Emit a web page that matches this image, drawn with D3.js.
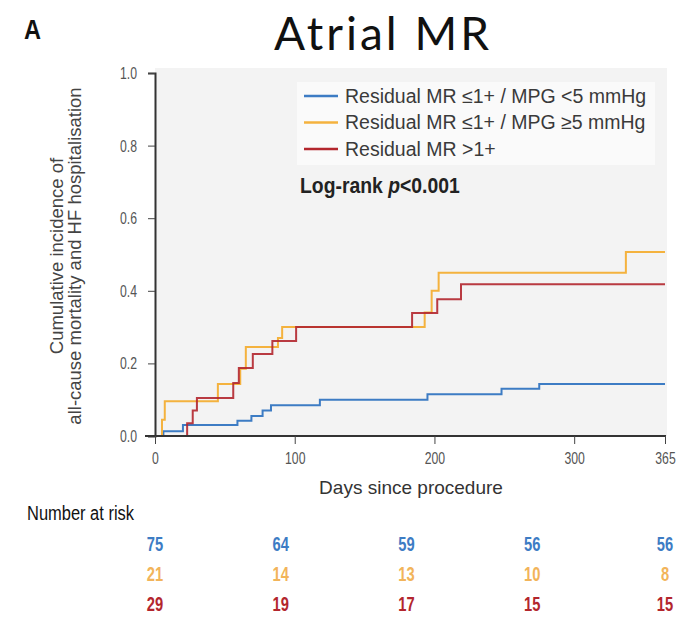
<!DOCTYPE html>
<html>
<head>
<meta charset="utf-8">
<script src="https://cdn.jsdelivr.net/npm/d3@7"></script>
<style>
    body { margin: 0; background: #fff; }
    .narrow { font-family: "Liberation Sans", Arial, sans-serif; }
    .tick text { font-family: "Liberation Sans", Arial, sans-serif; font-size: 17px; fill: #555; }
</style>
</head>
<body>
<svg id="chart" width="680" height="620"></svg>
<script>
// days / cumulative incidence
var blueDays = [0, 6, 20, 59, 69, 77, 83, 118, 195, 248, 275, 365];
var blueVals = [0, 0.013, 0.03, 0.042, 0.055, 0.07, 0.085, 0.1, 0.115, 0.13, 0.143, 0.143];

var orangeDays = [0, 5, 7, 45, 61, 65, 88, 91, 193, 198, 203, 337, 365];
var orangeVals = [0, 0.045, 0.096, 0.143, 0.185, 0.245, 0.27, 0.3, 0.34, 0.4, 0.45, 0.507, 0.507];

var redDays = [0, 23, 27, 30, 56, 60, 70, 84, 101, 184, 202, 219, 365];
var redVals = [0, 0.035, 0.07, 0.105, 0.146, 0.187, 0.226, 0.262, 0.30, 0.339, 0.377, 0.418, 0.418];

var seriesNames = ["Residual MR \u22641+ / MPG <5 mmHg", "Residual MR \u22641+ / MPG \u22655 mmHg", "Residual MR >1+"];
var seriesColors = ["#3d7cc4", "#f4b23e", "#b3262d"];
var riskColors = ["#3d7cc4", "#f2b45a", "#b3262d"];

var xTicks = [0, 100, 200, 300, 365];
var yTicks = [0, 0.2, 0.4, 0.6, 0.8, 1.0];

var riskDays = [0, 90, 180, 270, 365];
var riskBlue = [75, 64, 59, 56, 56];
var riskOrange = [21, 14, 13, 10, 8];
var riskRed = [29, 19, 17, 15, 15];

var svg = d3.select("#chart");

var plotLeft = 155, plotRight = 665, plotTop = 73, plotBottom = 436;

var x = d3.scaleLinear().domain([0, 365]).range([plotLeft, plotRight]);
var y = d3.scaleLinear().domain([0, 1]).range([plotBottom, plotTop]);

// no condensed font installed, so squeeze the glyphs
function condense(sel, k) {
    sel.each(function() {
        var w = this.getComputedTextLength();
        d3.select(this).attr("textLength", w * k).attr("lengthAdjust", "spacingAndGlyphs");
    });
}

// plot background
svg.append("rect")
    .attr("x", plotLeft).attr("y", 68)
    .attr("width", 667 - plotLeft).attr("height", plotBottom - 68)
    .attr("fill", "#f3f3f3");

// legend box
svg.append("rect")
    .attr("x", 297).attr("y", 82)
    .attr("width", 358).attr("height", 83)
    .attr("fill", "#fafafa");

// curves
var series = [
    {days: blueDays, vals: blueVals},
    {days: orangeDays, vals: orangeVals},
    {days: redDays, vals: redVals}
];
var line = d3.line()
    .x(function(d) { return x(d[0]); })
    .y(function(d) { return y(d[1]); })
    .curve(d3.curveStepAfter);

series.forEach(function(s, i) {
    svg.append("path")
        .datum(d3.zip(s.days, s.vals))
        .attr("d", line)
        .attr("fill", "none")
        .attr("stroke", seriesColors[i])
        .attr("stroke-width", 2)
        .attr("opacity", i == 2 ? 0.9 : 1);
});

// axes
var axisY = d3.axisLeft(y).tickValues(yTicks).tickFormat(d3.format(".1f")).tickSize(7).tickPadding(11);
var gy = svg.append("g").attr("transform", "translate(" + plotLeft + ",0)").call(axisY);
var axisX = d3.axisBottom(x).tickValues(xTicks).tickFormat(d3.format("d")).tickSize(8).tickPadding(8);
var gx = svg.append("g").attr("transform", "translate(0," + plotBottom + ")").call(axisX);
[gx, gy].forEach(function(g) {
    g.select(".domain").attr("stroke", "#333").attr("stroke-width", 2);
    g.selectAll(".tick line").attr("stroke", "#444");
    condense(g.selectAll(".tick text"), 0.72);
});
gx.select(".domain").attr("d", "M145,0H" + (plotRight + 1));

// legend
seriesNames.forEach(function(name, i) {
    var ly = 96 + i * 26.5;
    svg.append("line")
        .attr("x1", 304).attr("x2", 338)
        .attr("y1", ly).attr("y2", ly)
        .attr("stroke", seriesColors[i]).attr("stroke-width", 2.5);
    svg.append("text")
        .attr("x", 345).attr("y", ly + 6.5)
        .attr("font-family", "Liberation Sans, Arial, sans-serif")
        .attr("font-size", 19.5)
        .attr("fill", "#3a3a3a")
        .text(name);
});

var lr = svg.append("text")
    .attr("class", "narrow")
    .attr("transform", "translate(300,193) scale(0.88,1)")
    .attr("font-size", 22).attr("font-weight", "bold")
    .attr("fill", "#222");
lr.append("tspan").text("Log-rank ");
lr.append("tspan").attr("font-style", "italic").text("p");
lr.append("tspan").text("<0.001");

// titles
svg.append("text")
    .attr("x", 383).attr("y", 50)
    .attr("text-anchor", "middle")
    .attr("font-family", "Lato, sans-serif")
    .attr("font-size", 46)
    .attr("letter-spacing", 3)
    .attr("fill", "#111")
    .text("Atrial MR");

svg.append("text")
    .attr("class", "narrow")
    .attr("x", 24).attr("y", 39)
    .attr("font-size", 27).attr("font-weight", "bold")
    .attr("fill", "#111")
    .attr("textLength", 17).attr("lengthAdjust", "spacingAndGlyphs")
    .text("A");

svg.append("text")
    .attr("x", 411).attr("y", 494)
    .attr("text-anchor", "middle")
    .attr("font-family", "Liberation Sans, Arial, sans-serif")
    .attr("font-size", 19)
    .attr("fill", "#333")
    .text("Days since procedure");

var yTitle = svg.append("text")
    .attr("transform", "translate(63,256) rotate(-90)")
    .attr("text-anchor", "middle")
    .attr("font-family", "Liberation Sans, Arial, sans-serif")
    .attr("font-size", 18.5)
    .attr("fill", "#444");
yTitle.append("tspan").attr("x", 0).attr("dy", 0).text("Cumulative incidence of");
yTitle.append("tspan").attr("x", 0).attr("dy", 18).text("all-cause mortality and HF hospitalisation");

// number at risk
svg.append("text")
    .attr("class", "narrow")
    .attr("x", 27).attr("y", 520)
    .attr("font-size", 20)
    .attr("fill", "#111")
    .attr("textLength", 107).attr("lengthAdjust", "spacingAndGlyphs")
    .text("Number at risk");

[riskBlue, riskOrange, riskRed].forEach(function(row, i) {
    var t = svg.selectAll(null)
        .data(row)
        .enter().append("text")
        .attr("class", "narrow")
        .attr("x", function(d, j) { return x(riskDays[j]); })
        .attr("y", 551 + i * 30)
        .attr("text-anchor", "middle")
        .attr("font-size", 21).attr("font-weight", "bold")
        .attr("fill", riskColors[i])
        .text(function(d) { return d; });
    condense(t, 0.7);
});
</script>
</body>
</html>
